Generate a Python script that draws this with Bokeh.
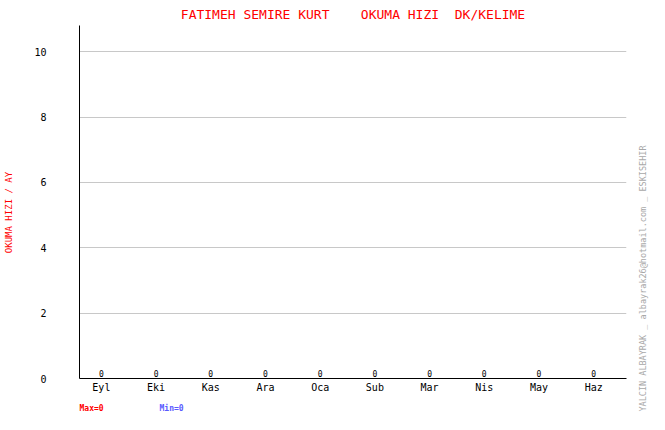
import math
from bokeh.plotting import figure
from bokeh.models import ColumnDataSource, FixedTicker, Label, Range1d
from bokeh.core.properties import value
from bokeh.embed import file_html
from bokeh.resources import INLINE

# ---- data ----
months = ["Eyl", "Eki", "Kas", "Ara", "Oca", "Sub", "Mar", "Nis", "May", "Haz"]
reading_speed = [0, 0, 0, 0, 0, 0, 0, 0, 0, 0]
y_ticks = [0, 2, 4, 6, 8, 10]
NB = "\u00a0"
title_text = "FATIMEH SEMIRE KURT" + NB * 4 + "OKUMA HIZI" + NB * 2 + "DK/KELIME"
y_label_text = "OKUMA HIZI / AY"
credit_text = "YALCIN ALBAYRAK _ albayrak26@hotmail.com _ ESKISEHIR"
max_text = "Max=" + str(max(reading_speed))
min_text = "Min=" + str(min(reading_speed))

FONT = "DejaVu Sans Mono"
W, H = 649, 414
FL, FR, FT, FB = 79, 626, 25, 378          # frame edges in pixels
X0, X1, Y0, Y1 = -0.4, 9.6, 0, 10.8

def dx(px):
    return X0 + (px - FL) * (X1 - X0) / (FR - FL)

def dy(py):
    return Y0 + (FB - py) * (Y1 - Y0) / (FB - FT)

xs = list(range(len(months)))
src = ColumnDataSource(dict(x=xs, y=reading_speed, t=[str(v) for v in reading_speed]))

p = figure(width=W, height=H, output_backend="svg", toolbar_location=None,
           x_range=Range1d(X0, X1), y_range=Range1d(Y0, Y1),
           min_border_left=FL, min_border_right=W - FR, min_border_top=FT, min_border_bottom=H - FB)
p.outline_line_color = None
p.background_fill_color = "white"
p.border_fill_color = "white"
p.xgrid.visible = False
p.ygrid.ticker = FixedTicker(ticks=y_ticks[1:])
p.ygrid.grid_line_color = "#c8c8c8"

p.title.text = title_text
p.title.align = "center"
p.title.offset = 1
p.title.text_font = FONT
p.title.text_font_size = "13px"
p.title.text_font_style = "normal"
p.title.text_color = "#ff0000"
p.title.standoff = 8

p.yaxis.ticker = FixedTicker(ticks=y_ticks)
p.xaxis.ticker = FixedTicker(ticks=xs)
p.xaxis.major_label_overrides = {i: m for i, m in enumerate(months)}
for ax in (p.xaxis[0], p.yaxis[0]):
    ax.major_tick_line_color = None
    ax.minor_tick_line_color = None
    ax.major_tick_out = 0
    ax.major_tick_in = 0
    ax.minor_tick_out = 0
    ax.minor_tick_in = 0
    ax.axis_line_color = "black"
    ax.axis_line_width = 1
    ax.major_label_text_font = FONT
    ax.major_label_text_font_size = "10px"
    ax.major_label_text_color = "black"
p.xaxis.major_label_standoff = 3
p.yaxis.major_label_standoff = 33

p.text(x="x", y="y", text="t", source=src, text_font=value(FONT), text_font_size="8px",
       text_align="center", text_baseline="middle", y_offset=-5, text_color="black")

p.add_layout(Label(x=dx(8), y=dy(212), text=y_label_text,
                   angle=math.pi / 2, text_font=FONT, text_font_size="9px", text_color="#ff0000",
                   text_align="center", text_baseline="middle"), "left")
p.add_layout(Label(x=dx(642), y=dy(278), text=credit_text,
                   angle=math.pi / 2, text_font=FONT, text_font_size="8.5px", text_color="#a8a8a8",
                   text_align="center", text_baseline="middle"), "right")
p.add_layout(Label(x=dx(79), y=dy(408), text=max_text,
                   text_font=FONT, text_font_size="8px", text_font_style="bold", text_color="#ff0000",
                   text_align="left", text_baseline="middle"), "below")
p.add_layout(Label(x=dx(159), y=dy(408), text=min_text,
                   text_font=FONT, text_font_size="8px", text_font_style="bold", text_color="#5a5aff",
                   text_align="left", text_baseline="middle"), "below")

open("out.html", "w").write(file_html(p, INLINE))
